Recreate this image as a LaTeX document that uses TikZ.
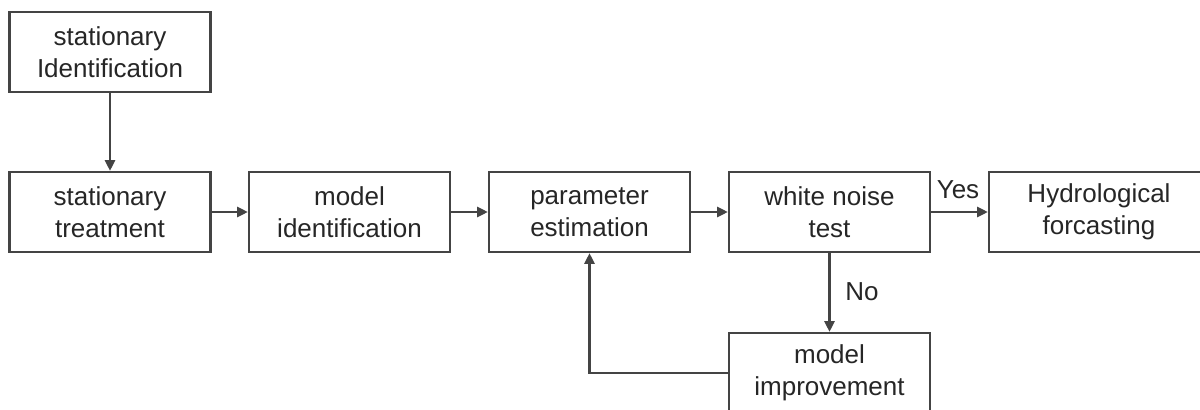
\documentclass[tikz,border=0pt]{standalone}
\usepackage{fontspec}
\setmainfont{Liberation Sans}
\usetikzlibrary{arrows.meta}
\definecolor{linec}{HTML}{444444}
\definecolor{textc}{HTML}{262626}
\begin{document}
\begin{tikzpicture}[x=0.75pt,y=-0.75pt,
  box/.style={draw=linec, line width=1.7pt, fill=white, minimum width=150.75pt, minimum height=60pt,
    align=center, inner sep=0pt, text=textc, font=\fontsize{19.5}{24}\selectfont},
  conn/.style={draw=linec, line width=1.7pt, -{Triangle[length=8pt,width=7.5pt]}},
  lab/.style={text=textc, font=\fontsize{19.5}{24}\selectfont, inner sep=0pt}]
\clip (0,0) rectangle (1200,410);
\fill[white] (0,0) rectangle (1200,410);
\node[box] (n1) at (110,52) {stationary\\Identification};
\node[box] (n2) at (110,212) {stationary\\treatment};
\node[box] (n3) at (349.5,212) {model\\identification};
\node[box] (n4) at (589.5,212) {parameter\\estimation};
\node[box] (n5) at (829.5,212) {white noise\\test};
\node[box, minimum width=165pt] (n6) at (1099,212) {Hydrological\\forcasting};
\node[box] (n7) at (829.5,373) {model\\improvement};
\draw[conn] (n1) -- (n2);
\draw[conn] (n2) -- (n3);
\draw[conn] (n3) -- (n4);
\draw[conn] (n4) -- (n5);
\draw[conn] (n5) -- (n6);
\draw[conn] (n5) -- (n7);
\draw[conn] (n7.west) -| (n4.south);
\node[lab] (yes) at (958,190) {Yes};
\node[lab] (no) at (862,292) {No};
\end{tikzpicture}
\end{document}
